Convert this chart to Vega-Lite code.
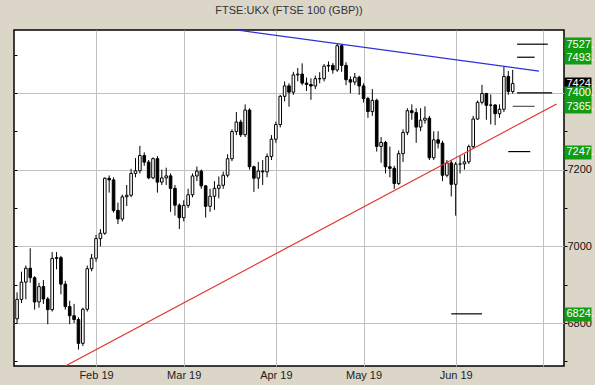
{
  "$schema": "https://vega.github.io/schema/vega-lite/v6.json",
  "width": 550,
  "height": 336,
  "autosize": {"type": "none"},
  "padding": {"left": 14, "top": 30, "right": 31, "bottom": 19},
  "background": "#dcd6c8",
  "title": {"text": "FTSE:UKX (FTSE 100 (GBP))", "font": "Liberation Sans", "fontSize": 11, "fontWeight": "normal", "color": "#333333", "offset": 14, "anchor": "middle"},
  "config": {
    "view": {"stroke": "black", "strokeWidth": 1.5, "fill": "white"},
    "axis": {"labelFont": "Liberation Sans", "labelFontSize": 11, "title": null}
  },
  "datasets": {
    "candles": [
      {"d":"2019-01-08","o":6811,"h":6880,"l":6800,"c":6861.6},
      {"d":"2019-01-09","o":6861.6,"h":6934,"l":6852,"c":6906.6},
      {"d":"2019-01-10","o":6906.6,"h":6950,"l":6862,"c":6942.9},
      {"d":"2019-01-11","o":6942.9,"h":6995,"l":6905,"c":6918.2},
      {"d":"2019-01-14","o":6918.2,"h":6922,"l":6835,"c":6855.0},
      {"d":"2019-01-15","o":6855.0,"h":6905,"l":6840,"c":6895.0},
      {"d":"2019-01-16","o":6895.0,"h":6912,"l":6850,"c":6862.7},
      {"d":"2019-01-17","o":6862.7,"h":6868,"l":6797,"c":6834.9},
      {"d":"2019-01-18","o":6834.9,"h":6985,"l":6830,"c":6968.3},
      {"d":"2019-01-21","o":6968.3,"h":6985,"l":6940,"c":6970.6},
      {"d":"2019-01-22","o":6970.6,"h":6975,"l":6875,"c":6901.4},
      {"d":"2019-01-23","o":6901.4,"h":6910,"l":6835,"c":6842.9},
      {"d":"2019-01-24","o":6842.9,"h":6858,"l":6797,"c":6819.0},
      {"d":"2019-01-25","o":6819.0,"h":6850,"l":6800,"c":6809.2},
      {"d":"2019-01-28","o":6809.2,"h":6815,"l":6731,"c":6747.1},
      {"d":"2019-01-29","o":6747.1,"h":6840,"l":6740,"c":6835.9},
      {"d":"2019-01-30","o":6835.9,"h":6950,"l":6830,"c":6941.6},
      {"d":"2019-01-31","o":6941.6,"h":6980,"l":6935,"c":6968.9},
      {"d":"2019-02-01","o":6968.9,"h":7030,"l":6960,"c":7020.2},
      {"d":"2019-02-04","o":7020.2,"h":7045,"l":7000,"c":7034.1},
      {"d":"2019-02-05","o":7034.1,"h":7180,"l":7030,"c":7177.4},
      {"d":"2019-02-06","o":7177.4,"h":7185,"l":7140,"c":7173.1},
      {"d":"2019-02-07","o":7173.1,"h":7180,"l":7088,"c":7093.6},
      {"d":"2019-02-08","o":7093.6,"h":7114,"l":7058,"c":7071.2},
      {"d":"2019-02-11","o":7071.2,"h":7135,"l":7065,"c":7129.1},
      {"d":"2019-02-12","o":7129.1,"h":7160,"l":7105,"c":7133.1},
      {"d":"2019-02-13","o":7133.1,"h":7202,"l":7128,"c":7190.0},
      {"d":"2019-02-14","o":7190.0,"h":7230,"l":7180,"c":7197.0},
      {"d":"2019-02-15","o":7197.0,"h":7262,"l":7190,"c":7236.7},
      {"d":"2019-02-18","o":7236.7,"h":7245,"l":7210,"c":7219.5},
      {"d":"2019-02-19","o":7219.5,"h":7225,"l":7175,"c":7178.6},
      {"d":"2019-02-20","o":7178.6,"h":7232,"l":7175,"c":7228.6},
      {"d":"2019-02-21","o":7228.6,"h":7235,"l":7140,"c":7167.4},
      {"d":"2019-02-22","o":7167.4,"h":7200,"l":7160,"c":7178.4},
      {"d":"2019-02-25","o":7178.4,"h":7205,"l":7160,"c":7183.7},
      {"d":"2019-02-26","o":7183.7,"h":7190,"l":7090,"c":7151.1},
      {"d":"2019-02-27","o":7151.1,"h":7160,"l":7080,"c":7107.2},
      {"d":"2019-02-28","o":7107.2,"h":7112,"l":7045,"c":7074.7},
      {"d":"2019-03-01","o":7074.7,"h":7120,"l":7065,"c":7106.7},
      {"d":"2019-03-04","o":7106.7,"h":7150,"l":7100,"c":7134.4},
      {"d":"2019-03-05","o":7134.4,"h":7190,"l":7128,"c":7183.4},
      {"d":"2019-03-06","o":7183.4,"h":7208,"l":7170,"c":7196.0},
      {"d":"2019-03-07","o":7196.0,"h":7200,"l":7150,"c":7157.6},
      {"d":"2019-03-08","o":7157.6,"h":7160,"l":7075,"c":7104.3},
      {"d":"2019-03-11","o":7104.3,"h":7150,"l":7090,"c":7130.6},
      {"d":"2019-03-12","o":7130.6,"h":7170,"l":7095,"c":7151.2},
      {"d":"2019-03-13","o":7151.2,"h":7182,"l":7125,"c":7159.2},
      {"d":"2019-03-14","o":7159.2,"h":7195,"l":7150,"c":7185.4},
      {"d":"2019-03-15","o":7185.4,"h":7240,"l":7180,"c":7228.3},
      {"d":"2019-03-18","o":7228.3,"h":7305,"l":7222,"c":7299.2},
      {"d":"2019-03-19","o":7299.2,"h":7350,"l":7290,"c":7324.0},
      {"d":"2019-03-20","o":7324.0,"h":7330,"l":7285,"c":7291.0},
      {"d":"2019-03-21","o":7291.0,"h":7370,"l":7285,"c":7355.3},
      {"d":"2019-03-22","o":7355.3,"h":7360,"l":7200,"c":7207.6},
      {"d":"2019-03-25","o":7207.6,"h":7210,"l":7142,"c":7177.6},
      {"d":"2019-03-26","o":7177.6,"h":7220,"l":7150,"c":7196.3},
      {"d":"2019-03-27","o":7196.3,"h":7225,"l":7160,"c":7194.2},
      {"d":"2019-03-28","o":7194.2,"h":7242,"l":7180,"c":7234.3},
      {"d":"2019-03-29","o":7234.3,"h":7290,"l":7225,"c":7279.2},
      {"d":"2019-04-01","o":7279.2,"h":7325,"l":7270,"c":7317.4},
      {"d":"2019-04-02","o":7317.4,"h":7395,"l":7310,"c":7391.1},
      {"d":"2019-04-03","o":7391.1,"h":7430,"l":7378,"c":7418.3},
      {"d":"2019-04-04","o":7418.3,"h":7425,"l":7364,"c":7401.9},
      {"d":"2019-04-05","o":7401.9,"h":7455,"l":7395,"c":7446.9},
      {"d":"2019-04-08","o":7446.9,"h":7465,"l":7430,"c":7449.0},
      {"d":"2019-04-09","o":7449.0,"h":7477,"l":7420,"c":7425.6},
      {"d":"2019-04-10","o":7425.6,"h":7440,"l":7405,"c":7421.9},
      {"d":"2019-04-11","o":7421.9,"h":7438,"l":7382,"c":7418.0},
      {"d":"2019-04-12","o":7418.0,"h":7445,"l":7410,"c":7437.1},
      {"d":"2019-04-15","o":7437.1,"h":7454,"l":7425,"c":7436.9},
      {"d":"2019-04-16","o":7436.9,"h":7475,"l":7430,"c":7469.9},
      {"d":"2019-04-17","o":7469.9,"h":7482,"l":7455,"c":7471.8},
      {"d":"2019-04-18","o":7471.8,"h":7478,"l":7450,"c":7459.9},
      {"d":"2019-04-23","o":7459.9,"h":7530,"l":7455,"c":7523.1},
      {"d":"2019-04-24","o":7523.1,"h":7525,"l":7455,"c":7471.8},
      {"d":"2019-04-25","o":7471.8,"h":7480,"l":7420,"c":7434.4},
      {"d":"2019-04-26","o":7434.4,"h":7443,"l":7399,"c":7428.2},
      {"d":"2019-04-29","o":7428.2,"h":7452,"l":7420,"c":7440.7},
      {"d":"2019-04-30","o":7440.7,"h":7445,"l":7395,"c":7418.2},
      {"d":"2019-05-01","o":7418.2,"h":7425,"l":7375,"c":7385.3},
      {"d":"2019-05-02","o":7385.3,"h":7390,"l":7335,"c":7351.3},
      {"d":"2019-05-03","o":7351.3,"h":7410,"l":7340,"c":7380.6},
      {"d":"2019-05-07","o":7380.6,"h":7385,"l":7247,"c":7260.5},
      {"d":"2019-05-08","o":7260.5,"h":7285,"l":7218,"c":7271.0},
      {"d":"2019-05-09","o":7271.0,"h":7275,"l":7190,"c":7207.4},
      {"d":"2019-05-10","o":7207.4,"h":7260,"l":7180,"c":7203.3},
      {"d":"2019-05-13","o":7203.3,"h":7210,"l":7150,"c":7163.7},
      {"d":"2019-05-14","o":7163.7,"h":7250,"l":7160,"c":7241.6},
      {"d":"2019-05-15","o":7241.6,"h":7305,"l":7220,"c":7297.0},
      {"d":"2019-05-16","o":7297.0,"h":7360,"l":7290,"c":7353.5},
      {"d":"2019-05-17","o":7353.5,"h":7370,"l":7330,"c":7348.6},
      {"d":"2019-05-20","o":7348.6,"h":7360,"l":7270,"c":7310.9},
      {"d":"2019-05-21","o":7310.9,"h":7360,"l":7300,"c":7328.9},
      {"d":"2019-05-22","o":7328.9,"h":7365,"l":7320,"c":7334.2},
      {"d":"2019-05-23","o":7334.2,"h":7340,"l":7225,"c":7231.0},
      {"d":"2019-05-24","o":7231.0,"h":7300,"l":7225,"c":7277.7},
      {"d":"2019-05-28","o":7277.7,"h":7300,"l":7255,"c":7269.0},
      {"d":"2019-05-29","o":7269.0,"h":7275,"l":7170,"c":7185.3},
      {"d":"2019-05-30","o":7185.3,"h":7225,"l":7180,"c":7217.5},
      {"d":"2019-05-31","o":7217.5,"h":7225,"l":7130,"c":7161.7},
      {"d":"2019-06-03","o":7161.7,"h":7220,"l":7080,"c":7214.3},
      {"d":"2019-06-04","o":7214.3,"h":7235,"l":7190,"c":7214.8},
      {"d":"2019-06-05","o":7214.8,"h":7240,"l":7200,"c":7220.2},
      {"d":"2019-06-06","o":7220.2,"h":7265,"l":7215,"c":7259.9},
      {"d":"2019-06-07","o":7259.9,"h":7340,"l":7255,"c":7331.9},
      {"d":"2019-06-10","o":7331.9,"h":7380,"l":7330,"c":7375.5},
      {"d":"2019-06-11","o":7375.5,"h":7421,"l":7370,"c":7398.5},
      {"d":"2019-06-12","o":7398.5,"h":7400,"l":7330,"c":7367.6},
      {"d":"2019-06-13","o":7367.6,"h":7396,"l":7318,"c":7368.6},
      {"d":"2019-06-14","o":7368.6,"h":7370,"l":7316,"c":7345.8},
      {"d":"2019-06-17","o":7345.8,"h":7370,"l":7335,"c":7357.3},
      {"d":"2019-06-18","o":7357.3,"h":7469,"l":7350,"c":7443.0},
      {"d":"2019-06-19","o":7443.0,"h":7457,"l":7395,"c":7403.5},
      {"d":"2019-06-20","o":7403.5,"h":7460,"l":7398,"c":7424.4}
    ],
    "trend": [
      {"line":"resistance","d":"2019-03-19","v":7564},
      {"line":"resistance","d":"2019-06-28","v":7457},
      {"line":"support","d":"2019-01-23","v":6688},
      {"line":"support","d":"2019-07-04","v":7371}
    ],
    "targets": [
      {"d":"2019-06-21","d2":"2019-07-02","v":7527},
      {"d":"2019-06-21","d2":"2019-06-27","v":7493},
      {"d":"2019-06-21","d2":"2019-07-03","v":7400},
      {"d":"2019-06-20","d2":"2019-06-27","v":7365},
      {"d":"2019-06-19","d2":"2019-06-26","v":7247},
      {"d":"2019-05-31","d2":"2019-06-11","v":6824}
    ]
  },
  "encoding": {
    "x": {
      "field": "d",
      "type": "ordinal",
      "scale": {
        "type": "point",
        "padding": 0.7,
        "domain": ["2019-01-08","2019-01-09","2019-01-10","2019-01-11","2019-01-14","2019-01-15","2019-01-16","2019-01-17","2019-01-18","2019-01-21","2019-01-22","2019-01-23","2019-01-24","2019-01-25","2019-01-28","2019-01-29","2019-01-30","2019-01-31",
          "2019-02-01","2019-02-04","2019-02-05","2019-02-06","2019-02-07","2019-02-08","2019-02-11","2019-02-12","2019-02-13","2019-02-14","2019-02-15","2019-02-18","2019-02-19","2019-02-20","2019-02-21","2019-02-22","2019-02-25","2019-02-26","2019-02-27","2019-02-28",
          "2019-03-01","2019-03-04","2019-03-05","2019-03-06","2019-03-07","2019-03-08","2019-03-11","2019-03-12","2019-03-13","2019-03-14","2019-03-15","2019-03-18","2019-03-19","2019-03-20","2019-03-21","2019-03-22","2019-03-25","2019-03-26","2019-03-27","2019-03-28","2019-03-29",
          "2019-04-01","2019-04-02","2019-04-03","2019-04-04","2019-04-05","2019-04-08","2019-04-09","2019-04-10","2019-04-11","2019-04-12","2019-04-15","2019-04-16","2019-04-17","2019-04-18","2019-04-23","2019-04-24","2019-04-25","2019-04-26","2019-04-29","2019-04-30",
          "2019-05-01","2019-05-02","2019-05-03","2019-05-07","2019-05-08","2019-05-09","2019-05-10","2019-05-13","2019-05-14","2019-05-15","2019-05-16","2019-05-17","2019-05-20","2019-05-21","2019-05-22","2019-05-23","2019-05-24","2019-05-28","2019-05-29","2019-05-30","2019-05-31",
          "2019-06-03","2019-06-04","2019-06-05","2019-06-06","2019-06-07","2019-06-10","2019-06-11","2019-06-12","2019-06-13","2019-06-14","2019-06-17","2019-06-18","2019-06-19","2019-06-20","2019-06-21","2019-06-24","2019-06-25","2019-06-26","2019-06-27","2019-06-28",
          "2019-07-01","2019-07-02","2019-07-03","2019-07-04","2019-07-05"]
      },
      "axis": {
        "orient": "bottom",
        "values": ["2019-02-01","2019-03-01","2019-04-01","2019-05-01","2019-06-03","2019-07-01"],
        "labelExpr": "datum.value == '2019-07-01' ? '' : utcFormat(toDate(datum.value), '%b %y')",
        "grid": true,
        "gridColor": "#c0c0c0",
        "gridWidth": 1,
        "ticks": false,
        "domain": false,
        "labelPadding": 3,
        "labelColor": "#222222",
        "labelAngle": 0,
        "labelOverlap": false
      }
    }
  },
  "layer": [
    {
      "data": {"name": "candles"},
      "mark": {"type": "rule", "color": "black", "strokeWidth": 1},
      "encoding": {
        "y": {
          "field": "l", "type": "quantitative",
          "scale": {"domain": [6688, 7564], "nice": false, "zero": false},
          "axis": {
            "orient": "right",
            "values": [6700, 6800, 6900, 7000, 7100, 7200, 7300, 7400, 7500],
            "format": "d",
            "labelExpr": "datum.value % 200 == 0 ? datum.label : ''",
            "grid": true,
            "gridColor": "#c0c0c0",
            "gridOpacity": {"condition": {"test": "datum.value % 200 == 0", "value": 1}, "value": 0},
            "domain": false,
            "tickSize": 3,
            "tickColor": "black",
            "labelPadding": 0,
            "labelColor": "#111111",
            "labelOverlap": false
          }
        },
        "y2": {"field": "h"}
      }
    },
    {
      "data": {"name": "candles"},
      "mark": {"type": "bar", "size": 2.6, "stroke": "black", "strokeWidth": 1},
      "encoding": {
        "y": {
          "field": "o", "type": "quantitative",
          "scale": {"domain": [6688, 7564], "nice": false, "zero": false},
          "axis": {
            "orient": "right",
            "values": [7424.44],
            "labelExpr": "format(datum.value, '.0f') + '.'",
            "grid": false,
            "domain": false,
            "tickSize": 27,
            "tickWidth": 14,
            "tickColor": "black",
            "labelPadding": -25,
            "labelColor": "white",
            "labelOverlap": false
          }
        },
        "y2": {"field": "c"},
        "fill": {"condition": {"test": "datum.c < datum.o", "value": "black"}, "value": "white"}
      }
    },
    {
      "data": {"name": "trend"},
      "mark": {"type": "line", "strokeWidth": 1.2, "clip": true},
      "encoding": {
        "y": {
          "field": "v", "type": "quantitative",
          "scale": {"domain": [6688, 7564], "nice": false, "zero": false},
          "axis": {
            "orient": "left",
            "values": [6700, 6800, 6900, 7000, 7100, 7200, 7300, 7400, 7500],
            "labels": false,
            "grid": false,
            "domain": false,
            "tickSize": -3,
            "tickColor": "black"
          }
        },
        "color": {"field": "line", "type": "nominal", "scale": {"domain": ["resistance", "support"], "range": ["#2f2fd6", "#e3302a"]}, "legend": null}
      }
    },
    {
      "data": {"name": "targets"},
      "mark": {"type": "rule", "strokeWidth": 1.2},
      "encoding": {
        "x2": {"field": "d2"},
        "y": {
          "field": "v", "type": "quantitative",
          "scale": {"domain": [6688, 7564], "nice": false, "zero": false},
          "axis": {
            "orient": "right",
            "values": [6824, 7247, 7365, 7400, 7493, 7527],
            "labelExpr": "format(datum.value, '.0f') + '.'",
            "grid": false,
            "domain": false,
            "tickSize": 27,
            "tickWidth": 14,
            "tickColor": "#129c12",
            "labelPadding": -25,
            "labelColor": "white",
            "labelOverlap": false
          }
        },
        "color": {"condition": {"test": "datum.v == 7365", "value": "#555555"}, "value": "black"}
      }
    }
  ],
  "resolve": {"scale": {"y": "shared"}, "axis": {"y": "independent"}}
}
